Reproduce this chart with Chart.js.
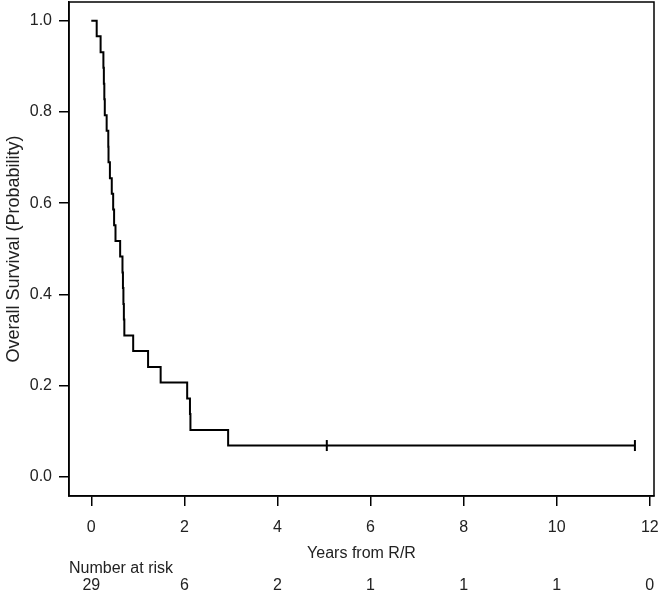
<!DOCTYPE html>
<html lang="en">
<head>
    <meta charset="UTF-8">
    <title>Overall Survival</title>
    <script src="https://cdn.jsdelivr.net/npm/chart.js"></script>
    <style>
        html, body { margin: 0; padding: 0; background: #fff; }
        #wrap { width: 662px; height: 596px; }
    </style>
</head>
<body>
    <div id="wrap"><canvas id="kmChart" width="662" height="596"></canvas></div>

    <script>
        // Kaplan-Meier steps (years, survival after the drop)
        const eventTimes = [0, 0.116, 0.20, 0.26, 0.27, 0.28, 0.29, 0.33, 0.365, 0.37, 0.40,
            0.44, 0.47, 0.49, 0.52, 0.62, 0.67, 0.68, 0.69, 0.70, 0.71,
            0.90, 1.22, 1.49, 2.06, 2.12, 2.13, 2.94, 5.06, 11.68];
        const survival = [1.0, 0.966, 0.931, 0.897, 0.862, 0.828, 0.793, 0.759, 0.724, 0.690, 0.655,
            0.621, 0.586, 0.552, 0.517, 0.483, 0.448, 0.414, 0.379, 0.345, 0.310,
            0.276, 0.241, 0.207, 0.172, 0.138, 0.103, 0.069, 0.069, 0.069];

        // censored observations
        const censorTimes = [5.06, 11.68];
        const censorSurvival = [0.069, 0.069];

        // risk table
        const riskTimes = [0, 2, 4, 6, 8, 10, 12];
        const atRisk = [29, 6, 2, 1, 1, 1, 0];

        const xTicks = [0, 2, 4, 6, 8, 10, 12];
        const yTicks = [0, 0.2, 0.4, 0.6, 0.8, 1.0];

        const FONT = '"Liberation Sans", Arial, sans-serif';
        const TEXT = '#222';

        // box round the plot + number at risk table
        const boxAndRisk = {
            id: 'boxAndRisk',
            afterDraw(chart) {
                const ctx = chart.ctx;
                const a = chart.chartArea;
                const xs = chart.scales.x;
                ctx.save();
                ctx.strokeStyle = '#000';
                ctx.lineWidth = 1.5;
                ctx.strokeRect(a.left, a.top, a.right - a.left, a.bottom - a.top);

                ctx.fillStyle = TEXT;
                ctx.font = '16px ' + FONT;
                ctx.textBaseline = 'middle';
                ctx.textAlign = 'left';
                ctx.fillText('Number at risk', 69, 569);
                ctx.textAlign = 'center';
                for (let i = 0; i < riskTimes.length; i++) {
                    ctx.fillText(String(atRisk[i]), xs.getPixelForValue(riskTimes[i]), 586);
                }
                ctx.restore();
            }
        };

        const ctx = document.getElementById('kmChart').getContext('2d');
        const kmChart = new Chart(ctx, {
            type: 'scatter',
            data: {
                datasets: [{
                    type: 'line',
                    label: 'Overall survival',
                    data: eventTimes.map((t, i) => ({ x: t, y: survival[i] })),
                    borderColor: '#000',
                    borderWidth: 2,
                    pointRadius: 0,
                    fill: false,
                    stepped: 'before'
                }, {
                    label: 'Censored',
                    data: censorTimes.map((t, i) => ({ x: t, y: censorSurvival[i] })),
                    pointStyle: 'line',
                    rotation: 90,
                    radius: 5.5,
                    borderColor: '#000',
                    borderWidth: 2
                }]
            },
            options: {
                responsive: false,
                animation: false,
                layout: { autoPadding: false, padding: { top: 2, right: 8, left: 0, bottom: 0 } },
                plugins: {
                    legend: { display: false },
                    tooltip: { enabled: false }
                },
                scales: {
                    x: {
                        type: 'linear',
                        min: -0.479,
                        max: 12.09,
                        afterBuildTicks: (s) => { s.ticks = xTicks.map(v => ({ value: v })); },
                        afterFit: (s) => {
                            s.height = 100;
                            s.paddingLeft = 0; s.paddingRight = 0; s.paddingTop = 0; s.paddingBottom = 0;
                        },
                        grid: { drawOnChartArea: false, drawTicks: true, tickLength: 10, color: '#000', lineWidth: 1.5 },
                        border: { display: true, color: '#000', width: 1.5 },
                        ticks: {
                            color: TEXT,
                            font: { family: FONT, size: 16 },
                            padding: 12,
                            maxRotation: 0,
                            callback: (v) => String(v)
                        },
                        title: {
                            display: true,
                            text: 'Years from R/R',
                            color: TEXT,
                            font: { family: FONT, size: 16 },
                            padding: { top: 0, bottom: 33 }
                        }
                    },
                    y: {
                        min: -0.0416,
                        max: 1.041,
                        afterBuildTicks: (s) => { s.ticks = yTicks.map(v => ({ value: v })); },
                        afterFit: (s) => {
                            s.width = 69;
                            s.paddingLeft = 0; s.paddingRight = 0; s.paddingTop = 0; s.paddingBottom = 0;
                        },
                        grid: { drawOnChartArea: false, drawTicks: true, tickLength: 10, color: '#000', lineWidth: 1.5 },
                        border: { display: true, color: '#000', width: 1.5 },
                        ticks: {
                            color: TEXT,
                            font: { family: FONT, size: 16 },
                            padding: 7,
                            callback: (v) => v.toFixed(1)
                        },
                        title: {
                            display: true,
                            text: 'Overall Survival (Probability)',
                            color: TEXT,
                            font: { family: FONT, size: 18 },
                            padding: { top: 3, bottom: 0 }
                        }
                    }
                }
            },
            plugins: [boxAndRisk]
        });
    </script>
</body>
</html>
